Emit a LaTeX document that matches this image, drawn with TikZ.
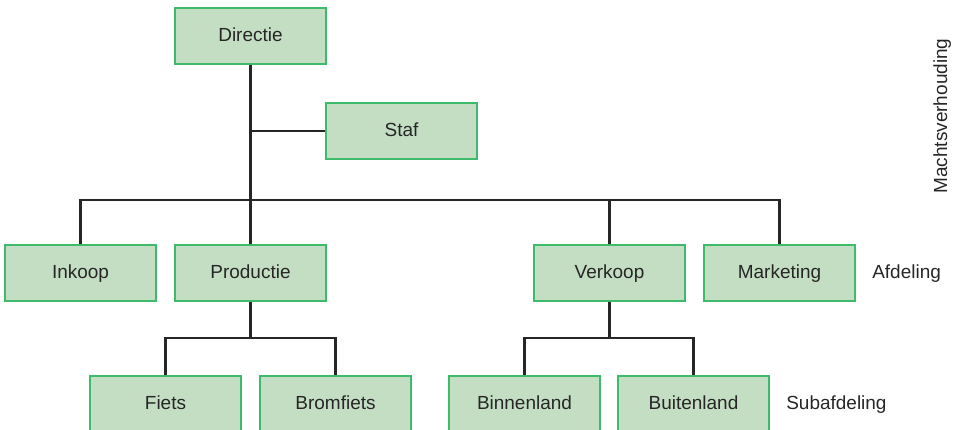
\documentclass[tikz,border=0pt]{standalone}
\usepackage{fontspec}
\setmainfont{Liberation Sans}
\usepackage{tikz}

\definecolor{boxfill}{HTML}{C4DEC3}
\definecolor{boxline}{HTML}{3DBB6A}
\definecolor{txt}{HTML}{262626}

\begin{document}
\begin{tikzpicture}[x=0.025cm,y=-0.025cm,
	unit/.style={shape=rectangle,draw=boxline,fill=boxfill,line width=0.9pt,
		minimum width=3.775cm,minimum height=1.4cm,inner sep=0pt,
		text height=0.72em,text depth=0pt,
		text=txt,font=\fontsize{13.5}{15}\selectfont},
	conn/.style={draw=txt,line width=2pt},
	lbl/.style={text=txt,font=\fontsize{13.5}{15}\selectfont,inner sep=0pt,
		text height=0.72em,text depth=0pt}]
	\useasboundingbox (0,0) rectangle (958,429);

	\node[unit] (dir)   at (250.5, 36)  {Directie};
	\node[unit] (staf)  at (401.5, 131) {Staf};
	\node[unit] (ink)   at (80.5, 273)  {Inkoop};
	\node[unit] (prod)  at (250.5, 273) {Productie};
	\node[unit] (verk)  at (609.5, 273) {Verkoop};
	\node[unit] (mark)  at (779.5, 273) {Marketing};
	\node[unit] (fiets) at (165.5, 404) {Fiets};
	\node[unit] (brom)  at (335.5, 404) {Bromfiets};
	\node[unit] (binn)  at (524.5, 404) {Binnenland};
	\node[unit] (buit)  at (693.5, 404) {Buitenland};

	\node[lbl,anchor=west] (afd)  at (872, 273) {Afdeling};
	\node[lbl,anchor=west] (sub)  at (786, 404) {Subafdeling};
	\node[lbl,rotate=90]   (macht) at (942, 116) {Machtsverhouding};

	\coordinate (bus)  at (250.5, 200);
	\coordinate (pbus) at (250.5, 338);
	\coordinate (vbus) at (609.5, 338);

	\draw[conn] (dir) -- (bus);
	\draw[conn] (dir |- staf) -- (staf);
	\draw[conn] (ink) |- (bus) -| (mark);
	\draw[conn] (prod) -- (prod |- bus);
	\draw[conn] (verk) -- (verk |- bus);

	\draw[conn] (prod) -- (pbus);
	\draw[conn] (fiets) |- (pbus) -| (brom);
	\draw[conn] (verk) -- (vbus);
	\draw[conn] (binn) |- (vbus) -| (buit);

\end{tikzpicture}
\end{document}
